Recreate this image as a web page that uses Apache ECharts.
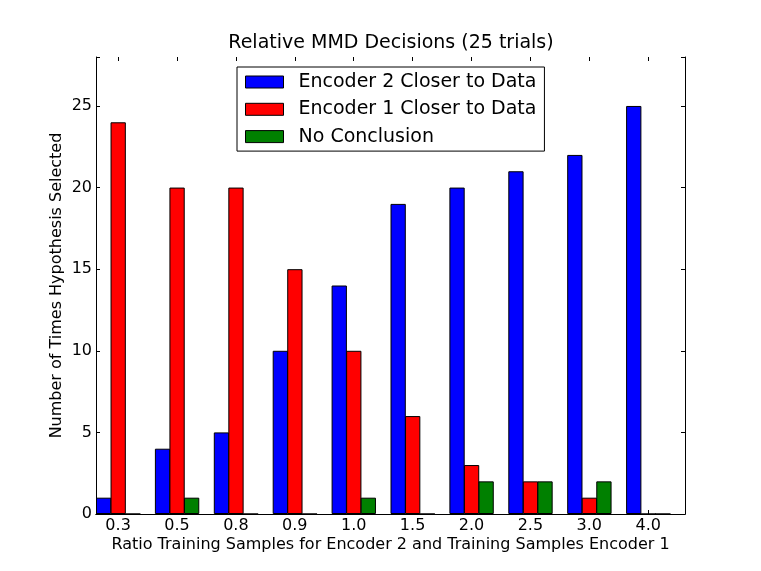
<!DOCTYPE html>
<html><head><meta charset="utf-8">
<script src="https://cdn.jsdelivr.net/npm/echarts@6/dist/echarts.min.js"></script>
<style>html,body{margin:0;padding:0;background:#fff}#c{width:761px;height:571px}</style>
</head><body><div id="c"></div>
<script>
const categories = ['0.3','0.5','0.8','0.9','1.0','1.5','2.0','2.5','3.0','4.0'];
const encoder2 = [1,4,5,10,14,19,20,21,22,25];
const encoder1 = [24,20,20,15,10,6,3,2,1,0];
const noConclusion = [0,1,0,0,1,0,2,2,2,0];
const yTicks = [0,5,10,15,20,25];

const FONT = 'DejaVu Sans';
const chart = echarts.init(document.getElementById('c'), null, {renderer:'canvas'});
const W = 589, L = 96, unit = W / categories.length;
const barStyle = c => ({color:c, borderColor:'#000', borderWidth:1});
chart.setOption({
  animation:false,
  backgroundColor:'#fff',
  title:{text:'Relative MMD Decisions (25 trials)', left:391, top:34, textAlign:'center', padding:0,
    textStyle:{fontFamily:FONT, fontSize:19, fontWeight:'normal', color:'#000'}},
  legend:{orient:'vertical', left:237, top:67, padding:[5.5,8,5,8], itemWidth:38, itemHeight:12, itemGap:8.3,
    borderColor:'#000', borderWidth:1, backgroundColor:'#fff', icon:'rect',
    data:['Encoder 2 Closer to Data','Encoder 1 Closer to Data','No Conclusion'],
    textStyle:{fontFamily:FONT, fontSize:19, color:'#000', lineHeight:19, padding:[0,0,0,10]},
    itemStyle:{borderColor:'#000', borderWidth:1}},
  grid:[
    {left:L, right:761-L-W, top:57, bottom:57},
    {left:L+0.375*unit, right:761-(L+9.375*unit), top:57, bottom:57}
  ],
  xAxis:[
    {gridIndex:0, type:'category', data:categories, position:'bottom',
     axisLine:{show:true, lineStyle:{color:'#000', width:1}}, axisTick:{show:false}, axisLabel:{show:false},
     name:'Ratio Training Samples for Encoder 2 and Training Samples Encoder 1', nameLocation:'middle', nameGap:22.5,
     nameMoveOverlap:false,
     nameTextStyle:{fontFamily:FONT, fontSize:16, color:'#000'}},
    {gridIndex:0, type:'category', data:categories, position:'top',
     axisLine:{show:true, lineStyle:{color:'#000', width:1}}, axisTick:{show:false}, axisLabel:{show:false}},
    {gridIndex:1, type:'category', data:categories, position:'bottom', boundaryGap:false,
     axisLine:{show:false}, axisTick:{show:true, inside:true, length:4, lineStyle:{color:'#000'}},
     axisLabel:{fontFamily:FONT, fontSize:16, color:'#000', margin:4}},
    {gridIndex:1, type:'category', data:categories, position:'top', boundaryGap:false,
     axisLine:{show:false}, axisTick:{show:true, inside:true, length:4, lineStyle:{color:'#000'}},
     axisLabel:{show:false}}
  ],
  yAxis:[
    {gridIndex:0, type:'value', min:0, max:28, interval:5, position:'left',
     axisLine:{show:true, lineStyle:{color:'#000', width:1}},
     axisTick:{show:true, inside:true, length:4, lineStyle:{color:'#000'}},
     splitLine:{show:false},
     axisLabel:{fontFamily:FONT, fontSize:16, color:'#000', margin:4,
       formatter:v => yTicks.includes(v) ? String(v) : ''},
     name:'Number of Times Hypothesis Selected', nameLocation:'middle', nameGap:31.5,
     nameMoveOverlap:false,
     nameTextStyle:{fontFamily:FONT, fontSize:16, color:'#000'}},
    {gridIndex:0, type:'value', min:0, max:28, interval:5, position:'right',
     axisLine:{show:true, lineStyle:{color:'#000', width:1}},
     axisTick:{show:true, inside:true, length:4, lineStyle:{color:'#000'}},
     splitLine:{show:false}, axisLabel:{show:false}},
    {gridIndex:1, type:'value', show:false, min:0, max:28}
  ],
  series:[
    {name:'Encoder 2 Closer to Data', type:'bar', xAxisIndex:0, yAxisIndex:0, data:encoder2,
     barGap:'-5%', barCategoryGap:'0%', itemStyle:barStyle('#0000ff')},
    {name:'Encoder 1 Closer to Data', type:'bar', xAxisIndex:0, yAxisIndex:0, data:encoder1,
     barGap:'-5%', barCategoryGap:'0%', itemStyle:barStyle('#ff0000')},
    {name:'No Conclusion', type:'bar', xAxisIndex:0, yAxisIndex:0, data:noConclusion,
     barGap:'-5%', barCategoryGap:'0%', itemStyle:barStyle('#008000')},
    {name:'_spacer', type:'bar', xAxisIndex:0, yAxisIndex:0, data:categories.map(()=>null),
     barGap:'-5%', barCategoryGap:'0%', itemStyle:{color:'transparent'}}
  ]
});
</script></body></html>
